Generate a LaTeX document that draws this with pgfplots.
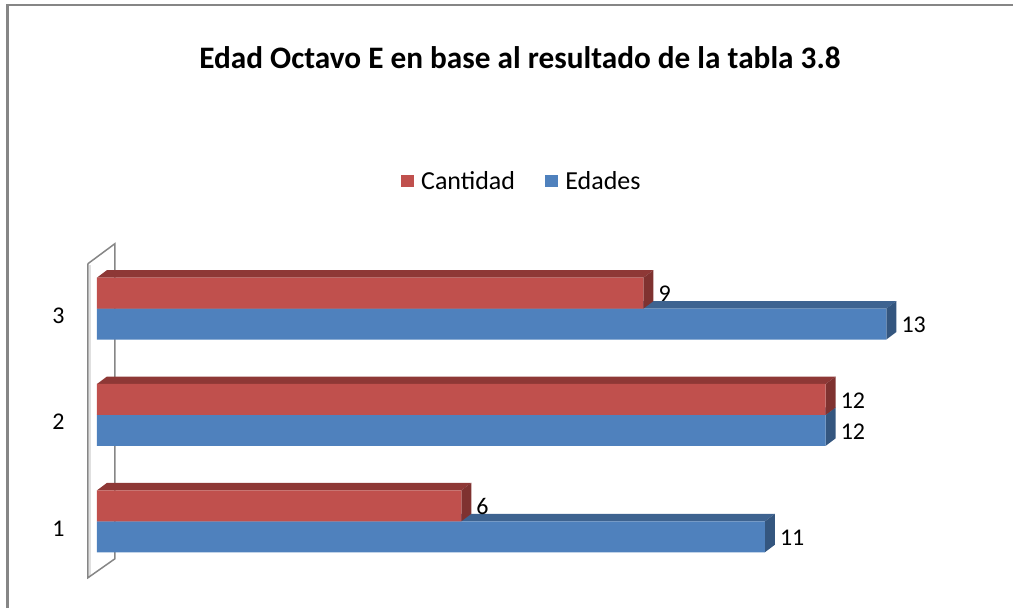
\documentclass[border=0pt]{standalone}
\usepackage{fontspec}
\setmainfont{Carlito}
\usepackage{pgfplots}
\pgfplotsset{compat=1.18}
\definecolor{redfront}{HTML}{C0504D}
\definecolor{redtop}{HTML}{8E3836}
\definecolor{redside}{HTML}{7F3230}
\definecolor{bluefront}{HTML}{4F81BD}
\definecolor{bluetop}{HTML}{3E6390}
\definecolor{blueside}{HTML}{34567F}
\definecolor{framegray}{HTML}{868686}
% top and side of a bar: value, lower y, upper y, top colour, side colour
\newcommand{\depthfaces}[5]{%
  \pgfmathsetmacro{\xb}{#1+0.1645}%
  \pgfmathsetmacro{\ytb}{#3+0.0704}%
  \pgfmathsetmacro{\ybb}{#2+0.0704}%
  \addplot[forget plot,fill=#4,draw=none] coordinates {(0,#3) (#1,#3) (\xb,\ytb) (0.1645,\ytb) (0,#3)};
  \addplot[forget plot,fill=#5,draw=none] coordinates {(#1,#2) (#1,#3) (\xb,\ytb) (\xb,\ybb) (#1,#2)};
}
\begin{document}
\begin{tikzpicture}
\begin{axis}[
    x=60.8pt, y=106.5pt,
    xmin=-1.5954, xmax=15.0822,
    ymin=0.1831, ymax=5.9014,
    clip=false,
    axis line style={draw=none},
    major tick length=0pt,
    xtick=\empty,
    ytick={1,2,3},
    yticklabel style={anchor=east,xshift=68pt,yshift=-7pt,font=\fontsize{24}{24}\selectfont},
    /pgf/number format/assume math mode=true,
    title={Edad Octavo E en base al resultado de la tabla 3.8},
    title style={at={(0.5133,0.8950)},anchor=center,inner sep=0pt,font=\fontsize{31.3}{31.3}\selectfont\bfseries},
    no markers,
    legend columns=2,
    legend style={at={(0.3955,0.7028)},anchor=west,draw=none,fill=none,inner sep=0pt,
      font=\fontsize{26}{26}\selectfont,
      /tikz/every odd column/.append style={column sep=6pt},
      /tikz/every even column/.append style={column sep=28pt}},
    legend image code/.code={\fill[#1] (0pt,-5.5pt) rectangle (12pt,5.5pt);},
]
\addlegendimage{redfront}
\addlegendentry{Cantidad}
\addlegendimage{bluefront}
\addlegendentry{Edades}

% side wall
\addplot[forget plot,draw=black!12,line width=1.5pt] coordinates {(-0.115,3.41) (-0.115,0.49)};
\addplot[forget plot,draw=framegray,line width=1.5pt] coordinates {
 (-0.148,3.4225) (0.296,3.6103) (0.296,0.6479) (-0.148,0.4695) (-0.148,3.4225)};

% blue series
\depthfaces{11}{0.709}{1}{bluetop}{blueside}
\depthfaces{12}{1.709}{2}{bluetop}{blueside}
\depthfaces{13}{2.709}{3}{bluetop}{blueside}
\addplot[forget plot,xbar,fill=bluefront,draw=none,bar width=31pt,bar shift=-15.5pt,
  nodes near coords,
  nodes near coords style={anchor=west,inner sep=0pt,xshift=15pt,yshift=-16.5pt,font=\fontsize{24}{24}\selectfont}]
  coordinates {(11,1) (12,2) (13,3)};

% red series
\depthfaces{6}{1}{1.291}{redtop}{redside}
\depthfaces{12}{2}{2.291}{redtop}{redside}
\depthfaces{9}{3}{3.291}{redtop}{redside}
\addplot[forget plot,xbar,fill=redfront,draw=none,bar width=31pt,bar shift=15.5pt,
  nodes near coords,
  nodes near coords style={anchor=west,inner sep=0pt,xshift=15pt,yshift=14.5pt,font=\fontsize{24}{24}\selectfont}]
  coordinates {(6,1) (12,2) (9,3)};

% chart frame
\draw[framegray,line width=2.5pt] (rel axis cs:0.0074,0) -- (rel axis cs:0.0074,0.9918) -- (rel axis cs:1,0.9918);
\end{axis}
\end{tikzpicture}
\end{document}
